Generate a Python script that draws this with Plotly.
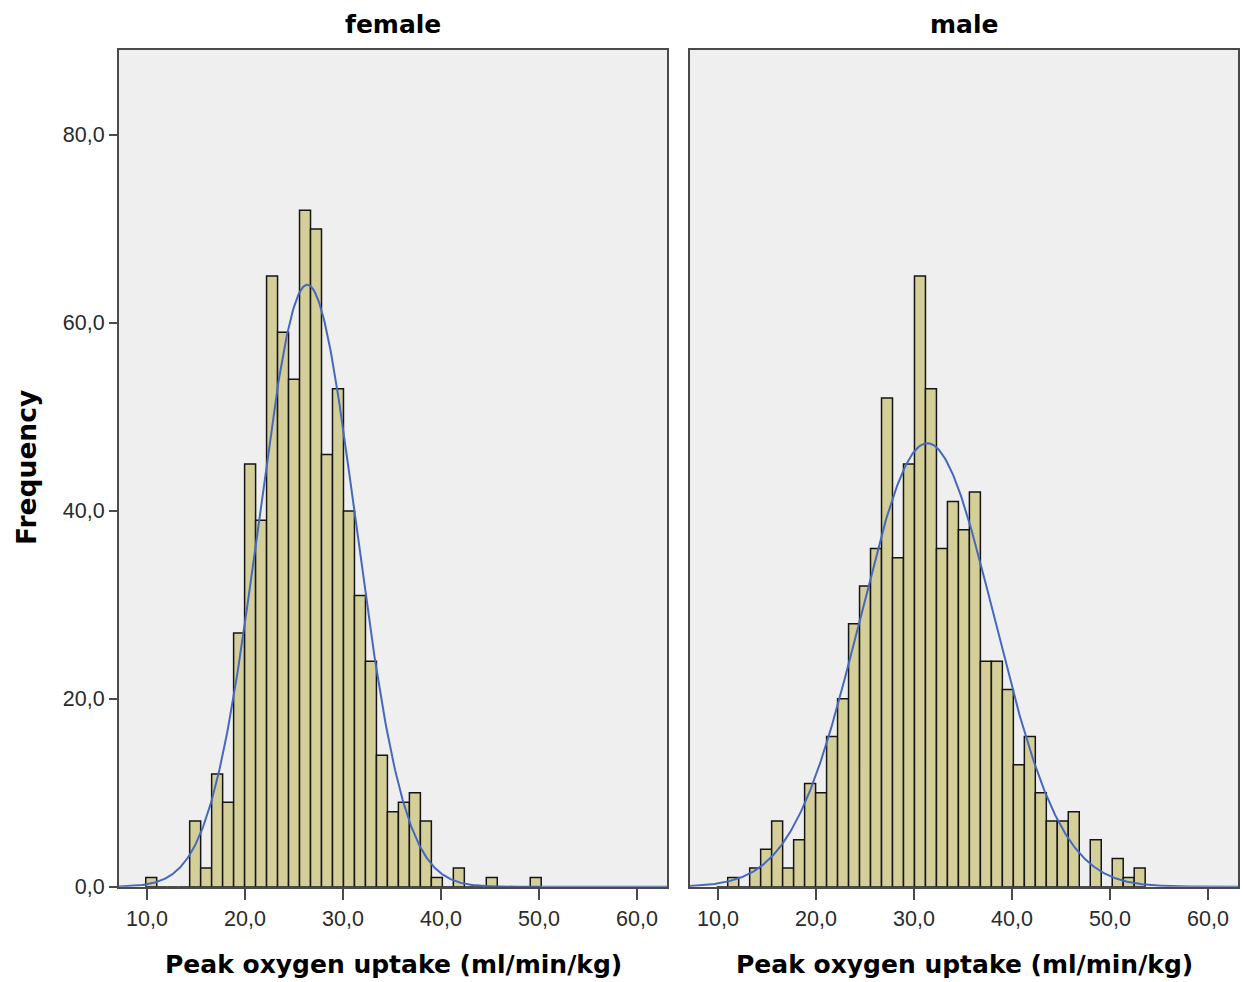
import numpy as np
import plotly.graph_objects as go

# ---- data ----
PANELS = ["female", "male"]
BIN_START = 9.87          # left edge of first bin (ml/min/kg)
BIN_WIDTH = 1.121         # bin width (ml/min/kg)
FEMALE_COUNTS = [1, 0, 0, 0, 7, 2, 12, 9, 27, 45, 39, 65, 59, 54, 72, 70, 46, 53,
                 40, 31, 24, 14, 8, 9, 10, 7, 1, 0, 2, 0, 0, 1, 0, 0, 0, 1]
MALE_COUNTS = [0, 1, 0, 2, 4, 7, 2, 5, 11, 10, 16, 20, 28, 32, 36, 52, 35, 45, 65,
               53, 36, 41, 38, 42, 24, 24, 21, 13, 16, 10, 7, 7, 8, 0, 5, 0, 3, 1, 2]
FEMALE_MEAN, FEMALE_SD = 26.35, 4.95
MALE_MEAN, MALE_SD = 31.35, 6.84
X_TICKS = [10, 20, 30, 40, 50, 60]
Y_TICKS = [0, 20, 40, 60, 80]
X_TITLE = "Peak oxygen uptake (ml/min/kg)"
Y_TITLE = "Frequency"

X_RANGE = [7.143, 63.06]
Y_RANGE = [0, 89.04]

W, H = 1244, 982
SY = 1.0132   # vertical layout correction
BAR_FILL = "#D4CF98"
BAR_LINE = "#151515"
CURVE = "#4668BE"
PLOT_BG = "#EFEFEF"
FRAME = "#4a4a4a"
TICK_FONT = dict(family="Liberation Sans", size=21.5, color="#2a2a2a")
BOLD_FONT = "DejaVu Sans"


def fy(px):
    """paper fraction for a pixel row counted from the top"""
    return 1 - px * SY / H


fig = go.Figure()

series = [(FEMALE_COUNTS, FEMALE_MEAN, FEMALE_SD), (MALE_COUNTS, MALE_MEAN, MALE_SD)]
xdomains = [[119 / W, 667 / W], [690 / W, 1238 / W]]
ydomain = [fy(887), fy(50)]

for i, (counts, mu, sd) in enumerate(series):
    idx = i + 1
    xa = "x" if idx == 1 else f"x{idx}"
    ya = "y" if idx == 1 else f"y{idx}"
    counts = np.array(counts, dtype=float)
    centers = BIN_START + BIN_WIDTH * (np.arange(len(counts)) + 0.5)
    fig.add_trace(go.Bar(
        x=centers, y=counts, width=BIN_WIDTH,
        marker=dict(color=BAR_FILL, line=dict(color=BAR_LINE, width=1.5)),
        xaxis=xa, yaxis=ya, showlegend=False, hoverinfo="skip"))
    n = counts.sum()
    xs = np.linspace(X_RANGE[0], X_RANGE[1], 600)
    ys = n * BIN_WIDTH / (sd * np.sqrt(2 * np.pi)) * np.exp(-0.5 * ((xs - mu) / sd) ** 2)
    fig.add_trace(go.Scatter(
        x=xs, y=ys, mode="lines", line=dict(color=CURVE, width=2),
        xaxis=xa, yaxis=ya, showlegend=False, hoverinfo="skip"))

common_x = dict(range=X_RANGE, tickvals=X_TICKS, tickformat=".1f", ticks="outside",
                ticklen=11, tickwidth=2, tickcolor=FRAME, showline=True, linecolor=FRAME,
                linewidth=2, mirror=True, showgrid=False, zeroline=False,
                tickfont=TICK_FONT, fixedrange=True)
common_y = dict(range=Y_RANGE, showline=True, linecolor=FRAME, linewidth=2, mirror=True,
                showgrid=False, zeroline=False, domain=ydomain, fixedrange=True)

fig.update_layout(
    xaxis=dict(domain=xdomains[0], anchor="y", **common_x),
    xaxis2=dict(domain=xdomains[1], anchor="y2", **common_x),
    yaxis=dict(anchor="x", tickvals=Y_TICKS, tickformat=".1f", ticks="outside", ticklen=8,
               tickwidth=2, tickcolor=FRAME, tickfont=TICK_FONT, **common_y),
    yaxis2=dict(anchor="x2", showticklabels=False, ticks="", **common_y),
    separators=",.",
    autosize=False,
    width=W, height=H,
    margin=dict(l=0, r=0, t=0, b=0),
    paper_bgcolor="white",
    plot_bgcolor=PLOT_BG,
    bargap=0,
    hovermode=False,
)

ann_font = dict(family=BOLD_FONT, size=25, color="black")
annotations = [
    dict(text="<b>%s</b>" % PANELS[0], x=393 / W, y=fy(25)),
    dict(text="<b>%s</b>" % PANELS[1], x=964 / W, y=fy(25)),
    dict(text="<b>%s</b>" % X_TITLE, x=393 / W, y=fy(965)),
    dict(text="<b>%s</b>" % X_TITLE, x=964 / W, y=fy(965)),
    dict(text="<b>%s</b>" % Y_TITLE, x=27 / W, y=fy(468), textangle=-90,
         font=dict(family=BOLD_FONT, size=26.5, color="black")),
]
for a in annotations:
    a.setdefault("font", ann_font)
    fig.add_annotation(xref="paper", yref="paper", xanchor="center", yanchor="middle",
                       showarrow=False, **a)

POST = """
document.documentElement.style.margin = '0';
document.body.style.margin = '0';
document.body.style.padding = '0';
document.body.style.overflow = 'hidden';
"""

fig.write_html("out.html",
               config={"displayModeBar": False, "responsive": False, "staticPlot": True},
               post_script=POST)
